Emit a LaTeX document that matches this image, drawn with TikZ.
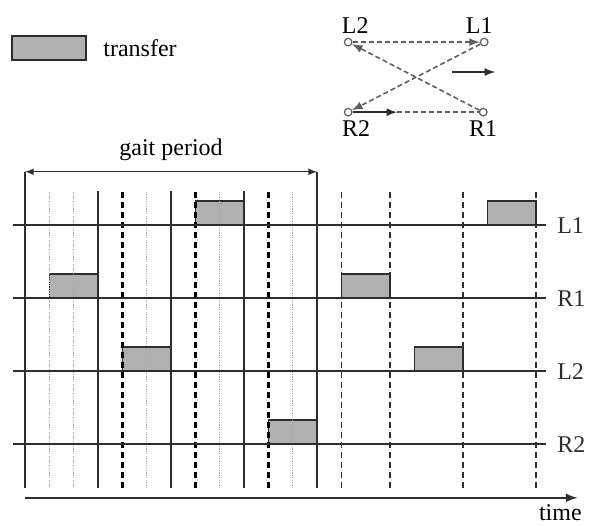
\documentclass[tikz,border=0pt]{standalone}
\usepackage{fontspec}
\setmainfont{Liberation Serif}
\usetikzlibrary{arrows}
\usetikzlibrary{math}
\definecolor{boxgray}{RGB}{176,176,176}
\definecolor{linegray}{RGB}{45,45,45}
\definecolor{dotgray}{RGB}{170,170,170}
\definecolor{walkgray}{RGB}{95,95,95}
\begin{document}
\begin{tikzpicture}[x=12.165pt,y=12.165pt,font=\fontsize{12pt}{14pt}\selectfont,
  phase/.style={draw=linegray,line width=0.8,fill=boxgray},
  foot/.style={circle,draw=walkgray,fill=white,line width=0.6,inner sep=0,minimum size=3.8pt},
  walk/.style={dash pattern=on 2.5pt off 1.5pt,color=walkgray,line width=0.8}]
\tikzmath{
\ytop=12.2;%top of the time lines
\ygait=13;
\yaxis=-0.4;
\xend=21.4;
\rowa=10.8;%L1
\rowb=7.8;%R1
\rowc=4.8;%L2
\rowd=1.8;%R2
}
\useasboundingbox (-1.03,-1.52) rectangle (23.26,20.06);

% legend
\node[phase,minimum width=37pt,minimum height=12pt,inner sep=0] (key) at (0.99,18.08) {};
\node[right=8pt,inner sep=0] (keytext) at (key.east) {transfer};

% gait sequence
\node[foot] (L2) at (13.28,18.33) {};
\node[foot] (L1) at (18.87,18.33) {};
\node[foot] (R2) at (13.28,15.45) {};
\node[foot] (R1) at (18.83,15.45) {};
\node[above=1pt,xshift=3.5pt] (tL2) at (L2) {L2};
\node[above=1pt,xshift=-2.5pt] (tL1) at (L1) {L1};
\node[below=0.5pt,xshift=4pt] (tR2) at (R2) {R2};
\node[below=0.5pt] (tR1) at (R1) {R1};
\draw[walk,-latex] (L2) -- (L1);
\draw[walk,-latex] (R1) -- (L2);
\draw[walk,-latex] (L1) -- (R2);
\coordinate (step) at (15.29,15.45);
\draw[walk] (step) -- (R1);
\draw[-latex,line width=0.8,color=linegray] (R2) -- (step);
\coordinate (go) at (17.55,17.1);
\coordinate (gone) at (19.32,17.1);
\draw[-latex,line width=0.8,color=linegray] (go) -- (gone);

% transfer phases
\draw[phase] (7,\rowa) rectangle (9,\rowa+1);
\draw[phase] (19,\rowa) rectangle (21,\rowa+1);
\draw[phase] (1,\rowb) rectangle (3,\rowb+1);
\draw[phase] (13,\rowb) rectangle (15,\rowb+1);
\draw[phase] (4,\rowc) rectangle (6,\rowc+1);
\draw[phase] (16,\rowc) rectangle (18,\rowc+1);
\draw[phase] (10,\rowd) rectangle (12,\rowd+1);

% time lines
\draw[line width=0.6,color=dotgray,dash pattern=on 0.6pt off 0.6pt] (1,0) -- (1,\ytop) (2,0) -- (2,\ytop) (5,0) -- (5,\ytop) (8,0) -- (8,\ytop) (11,0) -- (11,\ytop);
\draw[line width=0.8,color=linegray] (0,0) -- (0,\ygait) (3,0) -- (3,\ytop) (6,0) -- (6,\ytop) (9,0) -- (9,\ytop) (12,0) -- (12,\ygait);
\draw[line width=1.3,dash pattern=on 3pt off 2pt] (4,0) -- (4,\ytop) (7,0) -- (7,\ytop) (10,0) -- (10,\ytop);
\draw[line width=0.8,color=linegray,dash pattern=on 3pt off 2pt] (13,0) -- (13,\ytop) (15,0) -- (15,\ytop) (18,0) -- (18,\ytop) (21,0) -- (21,\ytop);

% legs
\draw[line width=0.9,color=linegray] (-0.5,\rowa) -- (\xend,\rowa) node[right=2pt] (nL1) {L1};
\draw[line width=0.9,color=linegray] (-0.5,\rowb) -- (\xend,\rowb) node[right=2pt] (nR1) {R1};
\draw[line width=0.9,color=linegray] (-0.5,\rowc) -- (\xend,\rowc) node[right=2pt] (nL2) {L2};
\draw[line width=0.9,color=linegray] (-0.5,\rowd) -- (\xend,\rowd) node[right=2pt] (nR2) {R2};

\draw[latex-latex,line width=0.5,color=linegray] (0,\ygait) -- (12,\ygait) node[midway,above=2pt,color=black] (gait) {gait period};
\draw[-latex,line width=1,color=linegray] (0,\yaxis) -- (22.7,\yaxis);
\node[below=0pt] (time) at (22.0,\yaxis) {time};
\end{tikzpicture}
\end{document}
